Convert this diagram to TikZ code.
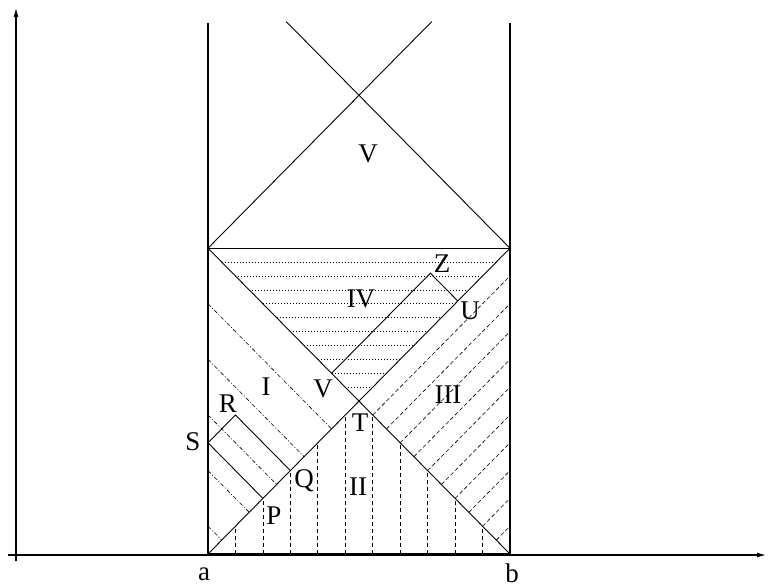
\documentclass[tikz,border=0pt]{standalone}
\usepackage{fontspec}
\setmainfont{Liberation Serif}
\usetikzlibrary{arrows.meta}
\begin{document}
\begin{tikzpicture}[x=1pt,y=-1pt,
 lbl/.style={inner sep=0pt, font=\fontsize{27}{27}\selectfont},
 wall/.style={line width=1.8pt},
 thinline/.style={line width=0.9pt},
 hatchI/.style={line width=0.6pt, dash pattern=on 4pt off 2pt on 1pt off 2pt},
 hatchII/.style={line width=0.7pt, dash pattern=on 4pt off 3pt},
 hatchIII/.style={line width=0.6pt, dash pattern=on 4pt off 2.5pt},
 hatchIV/.style={line width=0.7pt, dash pattern=on 0.8pt off 2.2pt},
 axis/.style={line width=1.1pt, -{Latex[length=9pt,width=5pt]}}]
\useasboundingbox (0,0) rectangle (769,586);
\coordinate (xo) at (8,555); \coordinate (xe) at (766,555);
\coordinate (yo) at (16,561); \coordinate (ye) at (16,8);
\draw[axis] (xo) -- (xe);
\draw[axis] (yo) -- (ye);
\begin{scope}[shift={(208,554)}, x=13.727pt, y=13.9pt]
 \coordinate (a) at (0,0); \coordinate (b) at (22,0);
 \coordinate (tl) at (0,22); \coordinate (tr) at (22,22);
 \coordinate (T) at (11,11);
 \coordinate (wl) at (0,38.2); \coordinate (wr) at (22,38.2);
 \coordinate (el) at (5.7,38.3); \coordinate (er) at (16.3,38.3);
 \coordinate (S) at (0,8); \coordinate (R) at (2,10); \coordinate (Q) at (6,6); \coordinate (P) at (4,4);
 \coordinate (V) at (9,13); \coordinate (Z) at (16.2,20.2); \coordinate (U) at (18.2,18.2);
 % hatching
 \foreach \k in {2,4,...,20} {
   \pgfmathsetmacro\h{min(\k,22-\k)}
   \draw[hatchII] (\k,0) -- (\k,\h);
 }
 \foreach \k in {1,...,10} \draw[hatchIII] (11+\k,11-\k) -- (22,22-2*\k);
 \foreach \w in {2,6,10,14,18} \draw[hatchI] (0,\w) -- (\w/2,\w/2);
 \foreach \j in {12,...,21} \draw[hatchIV] (22-\j,\j) -- (\j,\j);
 % solid lines
 \draw[thinline] (tl) -- (tr);
 \draw[thinline] (a) -- (tr);
 \draw[thinline] (b) -- (tl);
 \draw[thinline] (tl) -- (er);
 \draw[thinline] (tr) -- (el);
 \draw[thinline] (S) -- (R) -- (Q);
 \draw[thinline] (S) -- (P);
 \draw[thinline] (V) -- (Z) -- (U);
 \draw[wall] (a) -- (wl);
 \draw[wall] (b) -- (wr);
 \draw[wall] (a) -- (b);
\end{scope}
\node[lbl] (lV1) at (368,154) {V};
\node[lbl] (lIV) at (361,299) {IV};
\node[lbl] (lZ) at (442,264) {Z};
\node[lbl] (lU) at (470,311) {U};
\node[lbl] (lI) at (266,387) {I};
\node[lbl] (lV2) at (323,389) {V};
\node[lbl] (lIII) at (448,395) {III};
\node[lbl] (lR) at (228,404) {R};
\node[lbl] (lS) at (193,442) {S};
\node[lbl] (lT) at (360,423) {T};
\node[lbl] (lQ) at (304,481) {Q};
\node[lbl] (lII) at (358,487) {II};
\node[lbl] (lP) at (274,516) {P};
\node[lbl] (la) at (204,574) {a};
\node[lbl] (lb) at (512,573) {b};
\end{tikzpicture}
\end{document}
